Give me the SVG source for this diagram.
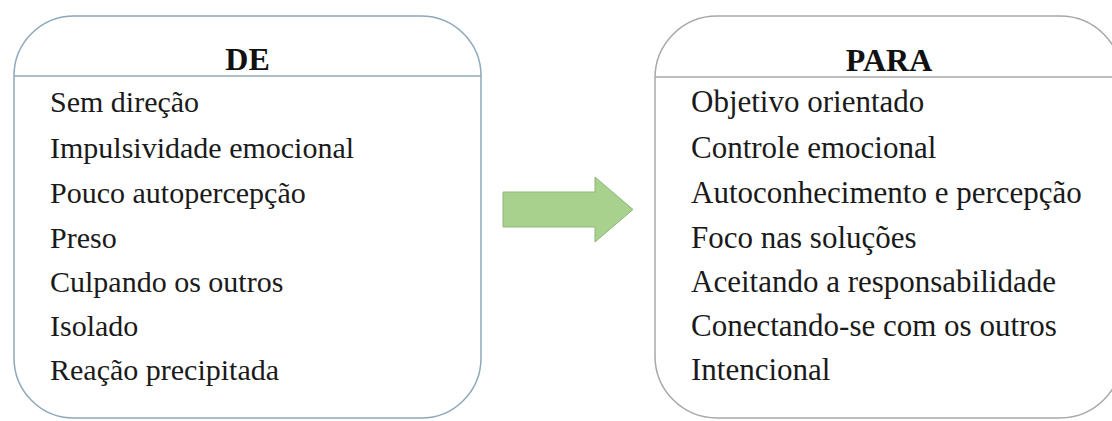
<svg xmlns="http://www.w3.org/2000/svg" width="1112" height="421" viewBox="0 0 1112 421">
  <style>
    .frame { fill: #ffffff; stroke-width: 1.5; }
    .from { stroke: #8ea8bb; }
    .to { stroke: #a8a8a8; }
    .head { font-family: "Liberation Serif", "Times New Roman", serif; font-weight: bold; font-size: 32px; fill: #111111; text-anchor: middle; }
    .item { font-family: "Liberation Serif", "Times New Roman", serif; font-size: 30px; fill: #1a1a1a; }
    .item-r { font-size: 31px; }
  </style>
  <rect width="1112" height="421" fill="#ffffff"/>

  <!-- left panel: DE -->
  <g id="node-de">
    <rect class="frame from" x="14" y="16" width="467" height="402" rx="60" ry="60"/>
    <line class="from" x1="14" y1="76" x2="481" y2="76" stroke-width="1.5"/>
    <text class="head" x="247.5" y="70">DE</text>
    <text class="item" x="50" y="112">Sem direção</text>
    <text class="item" x="50" y="158">Impulsividade emocional</text>
    <text class="item" x="50" y="203">Pouco autopercepção</text>
    <text class="item" x="50" y="248">Preso</text>
    <text class="item" x="50" y="292">Culpando os outros</text>
    <text class="item" x="50" y="336">Isolado</text>
    <text class="item" x="50" y="380">Reação precipitada</text>
  </g>

  <!-- right panel: PARA -->
  <g id="node-para">
    <rect class="frame to" x="655" y="16" width="467" height="402" rx="62" ry="62"/>
    <line class="to" x1="655" y1="77" x2="1122" y2="77" stroke-width="1.5"/>
    <text class="head" x="889" y="71">PARA</text>
    <text class="item item-r" x="691" y="112">Objetivo orientado</text>
    <text class="item item-r" x="691" y="158">Controle emocional</text>
    <text class="item item-r" x="691" y="203">Autoconhecimento e percepção</text>
    <text class="item item-r" x="691" y="248">Foco nas soluções</text>
    <text class="item item-r" x="691" y="292">Aceitando a responsabilidade</text>
    <text class="item item-r" x="691" y="336">Conectando-se com os outros</text>
    <text class="item item-r" x="691" y="380">Intencional</text>
  </g>

  <!-- block arrow between the panels -->
  <g id="connectors">
    <polygon points="503,192 595,192 595,177 633,209.5 595,242 595,227 503,227"
             fill="#a9d18e" stroke="#8db87a" stroke-width="1"/>
  </g>
</svg>
